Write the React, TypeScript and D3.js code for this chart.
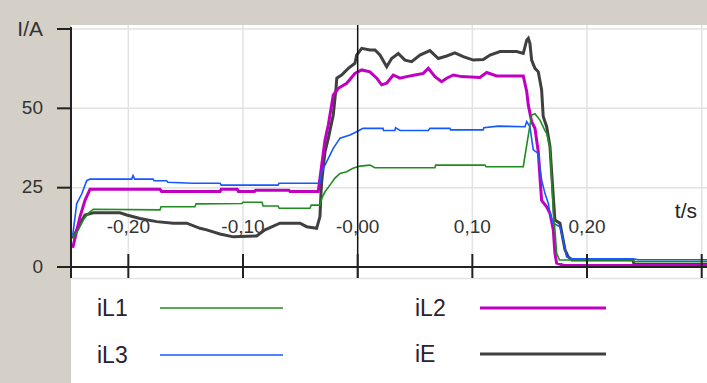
import React from "react";
import * as d3 from "d3";

type P = [number, number];

const xTicks = [-0.2, -0.1, 0, 0.1, 0.2, 0.3];
const xTickLabels = ["-0,20", "-0,10", "-0,00", "0,10", "0,20", ""];
const yTicks = [0, 25, 50, 75];
const yTickLabels = ["0", "25", "50", "I/A"];

const seriesNames = ["iL1", "iL2", "iL3", "iE"];
const seriesColors = ["#1f8c1f", "#c000c0", "#1458ff", "#404040"];
const seriesWidths = [1.6, 3, 1.6, 3];

const iL1: P[] = [[-0.2485,9],[-0.2436,11.7],[-0.2393,14.8],[-0.2349,16.9],[-0.2306,18.2],[-0.1724,18],[-0.1715,19],[-0.1419,19],[-0.141,19.9],[-0.1009,20],[-0.1,20.4],[-0.0834,20.4],[-0.0825,19.2],[-0.0695,19.2],[-0.0685,18.5],[-0.0416,18.5],[-0.0405,19.5],[-0.0329,19.5],[-0.0314,21.6],[-0.0285,23.7],[-0.0242,25.8],[-0.0198,28],[-0.0154,29.5],[-0.0096,30],[-0.0041,31.1],[0.002,31.8],[0.0107,32.1],[0.015,31.3],[0.0674,31.3],[0.068,32.1],[0.111,32.1],[0.112,31.6],[0.1444,31.6],[0.1474,38.4],[0.1517,47.9],[0.1546,48.3],[0.159,46.3],[0.1633,43],[0.1648,42.1],[0.1677,37.9],[0.1692,27.4],[0.1706,16.9],[0.172,11.7],[0.1735,4.3],[0.176,2.2],[0.2401,2.2],[0.241,1.7],[0.31,1.7]];

const iL2: P[] = [[-0.2485,6],[-0.2421,15.9],[-0.2378,21],[-0.2334,24.5],[-0.1724,24.5],[-0.171,23.8],[-0.12,23.8],[-0.119,24.5],[-0.105,24.5],[-0.104,23.8],[-0.09,23.8],[-0.089,24.2],[-0.06,24.2],[-0.059,23.8],[-0.0344,23.8],[-0.0314,32.1],[-0.0285,40],[-0.0256,44.8],[-0.0213,54.2],[-0.0169,56.3],[-0.0096,57.9],[-0.0024,61],[0.0035,62.1],[0.0107,61.5],[0.0166,59.5],[0.0209,57.4],[0.0253,57.9],[0.031,60.5],[0.0369,59.5],[0.0427,60],[0.05,60.5],[0.0572,61],[0.0616,62.6],[0.0674,60],[0.0732,58.4],[0.0776,59.5],[0.0834,60.5],[0.0907,60],[0.1066,59.7],[0.1125,61.3],[0.1212,60.2],[0.1444,60.2],[0.1474,55.3],[0.1488,51],[0.1517,45.8],[0.1546,43.7],[0.1575,36.3],[0.159,28],[0.1604,21],[0.1648,19],[0.1677,16.9],[0.1706,11.7],[0.172,4.3],[0.1735,1.2],[0.18,0.5],[0.31,0.5]];

const iL3: P[] = [[-0.2485,10],[-0.245,20],[-0.2407,23],[-0.2363,27.2],[-0.2334,27.7],[-0.1971,27.7],[-0.1959,28.8],[-0.1945,27.7],[-0.1785,27.7],[-0.1775,27.2],[-0.1666,27.2],[-0.1655,26.7],[-0.1436,26.4],[-0.12,26.4],[-0.119,25.8],[-0.0695,25.8],[-0.0685,26.4],[-0.0329,26.4],[-0.0314,30],[-0.027,33.2],[-0.0213,37.4],[-0.0154,40.6],[-0.0067,41.6],[-0.0009,42.6],[0.0046,43.7],[0.0221,43.7],[0.0225,43],[0.0325,43],[0.033,43.9],[0.037,43],[0.0616,43],[0.063,43.7],[0.0805,43.7],[0.081,43.2],[0.1095,43.2],[0.11,43.9],[0.1223,44.4],[0.1459,44.2],[0.1474,45.8],[0.1502,44.2],[0.1531,36.9],[0.1575,35.8],[0.1604,27.4],[0.1633,23.2],[0.1662,20.1],[0.1677,16.9],[0.1706,13.8],[0.1764,12.7],[0.1793,8.5],[0.1822,3.2],[0.1869,2.6],[0.2401,2.6],[0.245,2.3],[0.31,2.3]];

const iE: P[] = [[-0.2485,9],[-0.2436,12.7],[-0.2378,16.4],[-0.2306,17.1],[-0.2073,17.1],[-0.2014,16.4],[-0.1898,15.3],[-0.1753,14.3],[-0.1608,13.8],[-0.1491,13.8],[-0.1375,12.2],[-0.1317,11.7],[-0.1201,10.4],[-0.1085,9.5],[-0.0881,9.8],[-0.0808,11.7],[-0.0678,13.8],[-0.0503,13.8],[-0.0445,12.7],[-0.0358,12.2],[-0.0329,15.9],[-0.032,23.2],[-0.0314,26.9],[-0.0285,36.3],[-0.0256,40.6],[-0.0213,47.9],[-0.0189,56.3],[-0.0182,59.5],[-0.014,60.5],[-0.0082,62.6],[-0.0024,64.2],[-0.0009,66.8],[0.0035,68.9],[0.0107,68.4],[0.0151,68.4],[0.0194,66.8],[0.0253,63.1],[0.0296,65.7],[0.0354,67.3],[0.0412,65.2],[0.0471,64.7],[0.0543,66.8],[0.063,68.2],[0.0703,65.7],[0.0776,66.5],[0.0848,67.5],[0.0921,66.3],[0.1008,65.2],[0.1095,65.4],[0.1154,66.8],[0.1241,67.9],[0.1386,67.9],[0.1444,67.3],[0.1474,71.5],[0.1488,72.1],[0.1502,70.5],[0.1517,65.2],[0.1546,62.6],[0.1575,61.5],[0.1604,55.8],[0.1618,47.4],[0.1648,44.2],[0.1677,37.9],[0.1692,29.5],[0.172,14.8],[0.1764,13.8],[0.1808,5.4],[0.1836,3.2],[0.187,2.2],[0.2401,2.2],[0.241,0.8],[0.31,0.8]];

const seriesData = [iL1, iL2, iL3, iE];
const drawOrder = [3, 1, 2, 0];

const W = 707;
const H = 383;
const FONT = "'Liberation Sans', Arial, sans-serif";

export default function App() {
  const x = d3.scaleLinear().domain([-0.25, 0.3]).range([71, 701.7]);
  const y = d3.scaleLinear().domain([0, 75]).range([267, 29]);
  const line = d3
    .line<P>()
    .x((d) => x(d[0]))
    .y((d) => y(d[1]))
    .curve(d3.curveLinear);

  const plotTop = 25;
  const plotBottom = 278;
  const x0 = x(-0.25);

  const legendItems = [
    { i: 0, tx: 97, lx1: 160, lx2: 283, cy: 308 },
    { i: 2, tx: 97, lx1: 160, lx2: 283, cy: 355 },
    { i: 1, tx: 415, lx1: 480, lx2: 606, cy: 308 },
    { i: 3, tx: 415, lx1: 480, lx2: 606, cy: 354 },
  ];

  return (
    <svg
      width={W}
      height={H}
      style={{ position: "absolute", left: 0, top: 0, display: "block" }}
      fontFamily={FONT}
    >
      <defs>
        <clipPath id="plotclip">
          <rect x={x0} y={plotTop} width={W - x0} height={plotBottom - plotTop} />
        </clipPath>
      </defs>
      <rect x={0} y={0} width={W} height={H} fill="#d4d0c8" />
      <rect x={x0} y={plotTop} width={W - x0} height={H - plotTop} fill="#ffffff" />
      <line x1={x0} x2={W} y1={plotBottom + 0.5} y2={plotBottom + 0.5} stroke="#e4e4e4" strokeWidth={1.5} />

      {/* grid */}
      {xTicks.filter((t) => t !== 0).map((t) => (
        <line key={"gx" + t} x1={x(t)} x2={x(t)} y1={plotTop} y2={plotBottom} stroke="#e2e2e2" strokeWidth={1.5} />
      ))}
      {yTicks.filter((v) => v !== 0).map((v) => (
        <line key={"gy" + v} x1={x0} x2={W} y1={y(v)} y2={y(v)} stroke="#e2e2e2" strokeWidth={1.5} />
      ))}

      {/* x tick labels inside plot */}
      {xTicks.map((t, i) =>
        xTickLabels[i] ? (
          <text
            key={"xl" + t}
            x={x(t)}
            y={226}
            textAnchor="middle"
            dominantBaseline="central"
            fontSize={19}
            fill="#333"
          >
            {xTickLabels[i]}
          </text>
        ) : null
      )}
      <text x={697} y={210} textAnchor="end" dominantBaseline="central" fontSize={21} fill="#222">
        t/s
      </text>

      {/* series */}
      <g clipPath="url(#plotclip)">
        {drawOrder.map((i) => (
          <path
            key={seriesNames[i]}
            d={line(seriesData[i]) || ""}
            fill="none"
            stroke={seriesColors[i]}
            strokeWidth={seriesWidths[i]}
            strokeLinejoin="miter"
          />
        ))}
      </g>

      {/* t=0 line */}
      <line x1={x(0)} x2={x(0)} y1={plotTop} y2={plotBottom} stroke="#111" strokeWidth={1.5} />

      {/* axes */}
      <line x1={x0} x2={x0} y1={27} y2={plotBottom} stroke="#222" strokeWidth={2} />
      <line x1={57} x2={W} y1={y(0)} y2={y(0)} stroke="#222" strokeWidth={2} />
      {yTicks.map((v) => (
        <line key={"yt" + v} x1={57} x2={x0} y1={y(v)} y2={y(v)} stroke="#222" strokeWidth={2} />
      ))}
      {xTicks.map((t) => (
        <line key={"xt" + t} x1={x(t)} x2={x(t)} y1={254} y2={plotBottom} stroke="#222" strokeWidth={2} />
      ))}
      {yTicks.map((v, i) => (
        <text
          key={"yl" + v}
          x={43}
          y={y(v) - 1}
          textAnchor="end"
          dominantBaseline="central"
          fontSize={i === 3 ? 21 : 19}
          fill="#333"
        >
          {yTickLabels[i]}
        </text>
      ))}

      {/* legend */}
      {legendItems.map((it) => (
        <g key={"lg" + it.i}>
          <text x={it.tx} y={it.cy} dominantBaseline="central" fontSize={23} fill="#2a2233">
            {seriesNames[it.i]}
          </text>
          <line
            x1={it.lx1}
            x2={it.lx2}
            y1={it.cy}
            y2={it.cy}
            stroke={seriesColors[it.i]}
            strokeWidth={seriesWidths[it.i]}
          />
        </g>
      ))}
    </svg>
  );
}
